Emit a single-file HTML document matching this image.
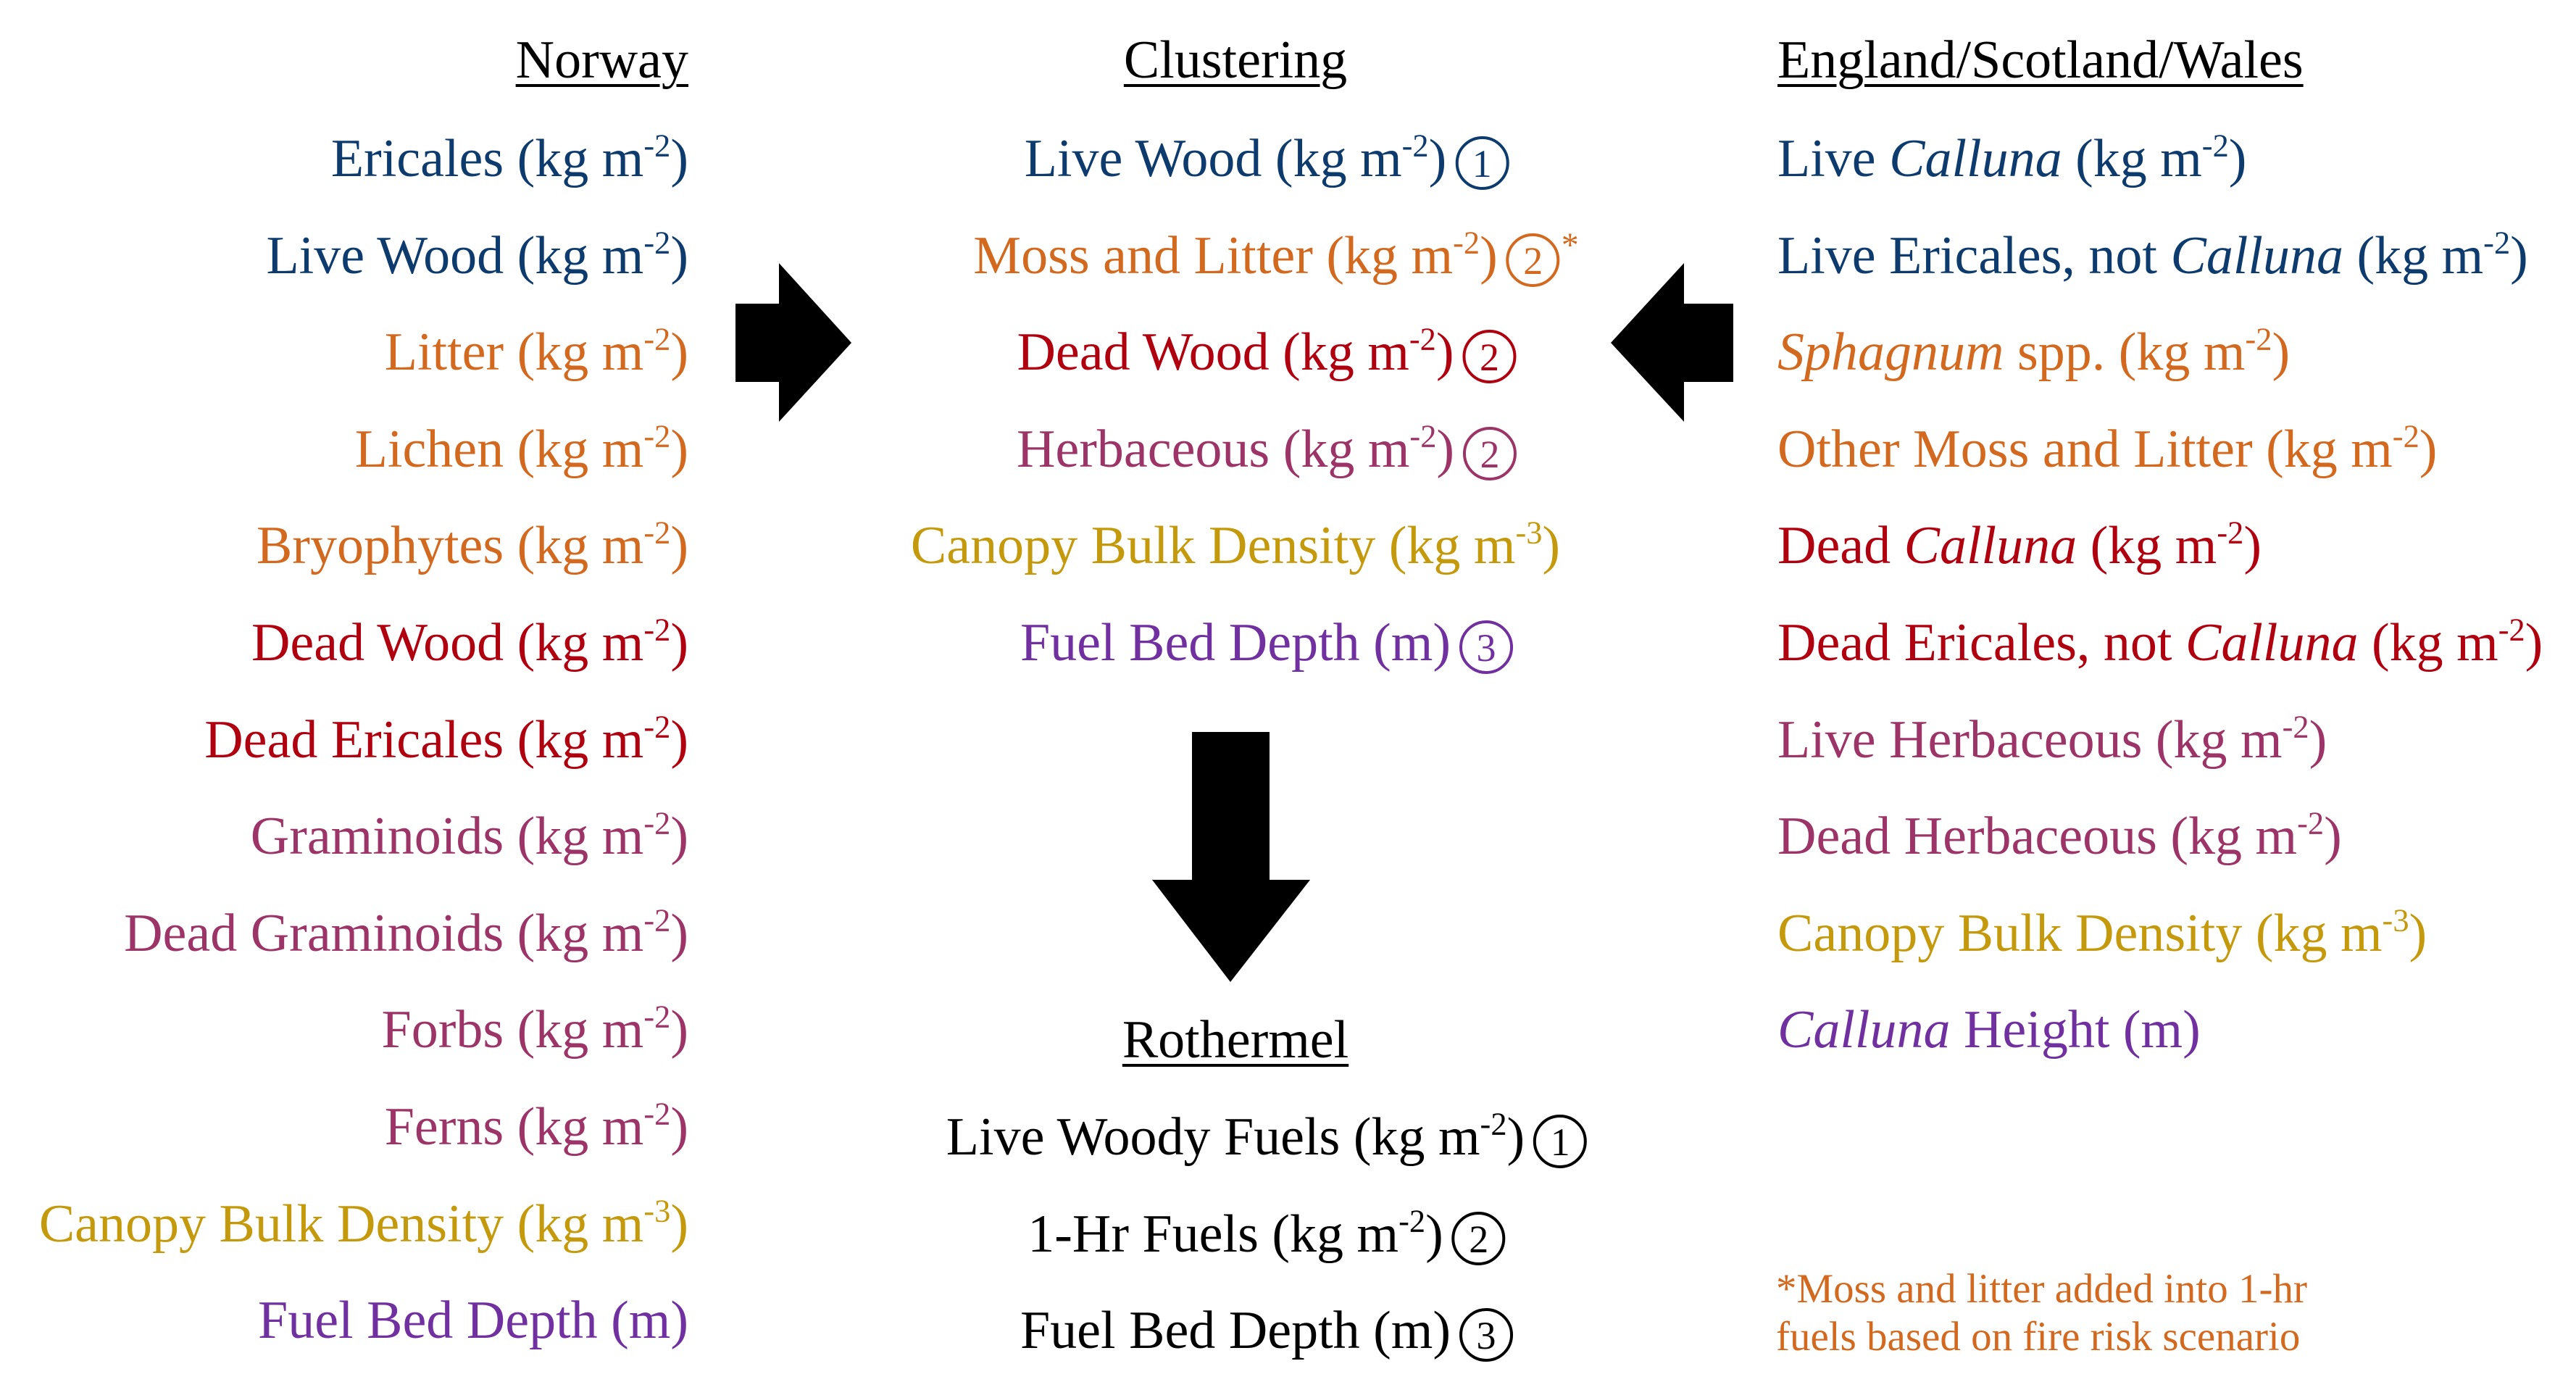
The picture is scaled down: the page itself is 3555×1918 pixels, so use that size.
<!DOCTYPE html>
<html><head><meta charset="utf-8"><style>
html,body{margin:0;padding:0;background:#fff;}
#stage{position:relative;width:3555px;height:1918px;overflow:hidden;font-family:"Liberation Serif",serif;}
.t{position:absolute;font-size:74px;line-height:74px;white-space:nowrap;}
.r{text-align:right;}
.c{transform:translateX(-50%);}
sup{font-size:0.6em;vertical-align:0.62em;line-height:0;}
.h{color:#000;text-decoration:underline;text-decoration-thickness:4px;text-underline-offset:9px;}
.circ{position:absolute;top:50%;width:66px;height:66px;border:4px solid currentColor;border-radius:50%;font-size:54px;line-height:68px;text-align:center;margin-top:-31px;}
.blue{color:#0d3b6e}.orange{color:#d2691e}.red{color:#b0000f}.pink{color:#9c3468}.gold{color:#c49a0c}.purple{color:#7030a0}
.foot{position:absolute;font-size:57px;line-height:66px;color:#d2691e;white-space:nowrap;}
</style></head><body>
<div id="stage">
<svg width="3555" height="1918" style="position:absolute;left:0;top:0">
<polygon fill="#000" points="1015,419 1075,419 1075,363 1175,473 1075,582 1075,527 1015,527"/>
<polygon fill="#000" points="2392,419 2324,419 2324,363 2223,473 2324,582 2324,527 2392,527"/>
<polygon fill="#000" points="1645,1010 1752,1010 1752,1214 1808,1214 1698,1355 1590,1214 1645,1214"/>
</svg>
<div id="content"></div>
<div class="foot" style="left:2451px;top:1746px">*Moss and litter added into 1-hr<br>fuels based on fire risk scenario</div>
</div>
<script>
const norway=[
['Ericales (kg m<sup>-2</sup>)','blue'],['Live Wood (kg m<sup>-2</sup>)','blue'],['Litter (kg m<sup>-2</sup>)','orange'],['Lichen (kg m<sup>-2</sup>)','orange'],['Bryophytes (kg m<sup>-2</sup>)','orange'],['Dead Wood (kg m<sup>-2</sup>)','red'],['Dead Ericales (kg m<sup>-2</sup>)','red'],['Graminoids (kg m<sup>-2</sup>)','pink'],['Dead Graminoids (kg m<sup>-2</sup>)','pink'],['Forbs (kg m<sup>-2</sup>)','pink'],['Ferns (kg m<sup>-2</sup>)','pink'],['Canopy Bulk Density (kg m<sup>-3</sup>)','gold'],['Fuel Bed Depth (m)','purple']];
const clustering=[
['Live Wood (kg m<sup>-2</sup>)','blue','1'],['Moss and Litter (kg m<sup>-2</sup>)','orange','2*'],['Dead Wood (kg m<sup>-2</sup>)','red','2'],['Herbaceous (kg m<sup>-2</sup>)','pink','2'],['Canopy Bulk Density (kg m<sup>-3</sup>)','gold',''],['Fuel Bed Depth (m)','purple','3']];
const england=[
['Live <i>Calluna</i> (kg m<sup>-2</sup>)','blue'],['Live Ericales, not <i>Calluna</i> (kg m<sup>-2</sup>)','blue'],['<i>Sphagnum</i> spp. (kg m<sup>-2</sup>)','orange'],['Other Moss and Litter (kg m<sup>-2</sup>)','orange'],['Dead <i>Calluna</i> (kg m<sup>-2</sup>)','red'],['Dead Ericales, not <i>Calluna</i> (kg m<sup>-2</sup>)','red'],['Live Herbaceous (kg m<sup>-2</sup>)','pink'],['Dead Herbaceous (kg m<sup>-2</sup>)','pink'],['Canopy Bulk Density (kg m<sup>-3</sup>)','gold'],['<i>Calluna</i> Height (m)','purple']];
const rothermel=[['Live Woody Fuels (kg m<sup>-2</sup>)','1'],['1-Hr Fuels (kg m<sup>-2</sup>)','2'],['Fuel Bed Depth (m)','3']];
const C=document.getElementById('content');
const B0=244, DY=133.6, ASC=62;
function mk(html,cls,style,name){
  const d=document.createElement('div');
  d.className='t '+cls;
  d.innerHTML=html;
  d.setAttribute('style',style);
  
  
  C.appendChild(d);return d;
}
function circ(d,n,color){
  const s=document.createElement('span');
  s.className='circ';
  s.style.left='calc(100% + 12px)';
  if(color)s.style.color=color;
  const star=n.endsWith('*');
  s.textContent=n.replace('*','');
  
  
  d.appendChild(s);
  if(star){const a=document.createElement('span');a.textContent='*';a.style.cssText='position:absolute;left:calc(100% + 88px);top:-14px;font-size:48px;';
  
  
  d.appendChild(a);}
}
mk('<span class="h">Norway</span>','r','right:2605px;top:'+(108-ASC)+'px','norway-header');
mk('<span class="h">Clustering</span>','c','left:1705px;top:'+(108-ASC)+'px','clustering-header');
mk('<span class="h">England/Scotland/Wales</span>','','left:2453px;top:'+(108-ASC)+'px','england-header');
norway.forEach((r,i)=>mk(r[0],'r '+r[1],'right:2605px;top:'+(B0+i*DY-ASC)+'px','norway-item'));
england.forEach((r,i)=>mk(r[0],r[1],'left:2453px;top:'+(B0+i*DY-ASC)+'px','england-item'));
clustering.forEach((r,i)=>{const d=mk(r[0],'c '+r[1],'left:1705px;top:'+(B0+i*DY-ASC)+'px','clustering-item');if(r[2])circ(d,r[2]);});
mk('<span class="h">Rothermel</span>','c','left:1705px;top:'+(1460-ASC)+'px','rothermel-header');
rothermel.forEach((r,i)=>{const d=mk(r[0],'c','left:1705px;color:#000;top:'+(1594+i*DY-ASC)+'px','rothermel-item');circ(d,r[1]);});
</script>
</body></html>
